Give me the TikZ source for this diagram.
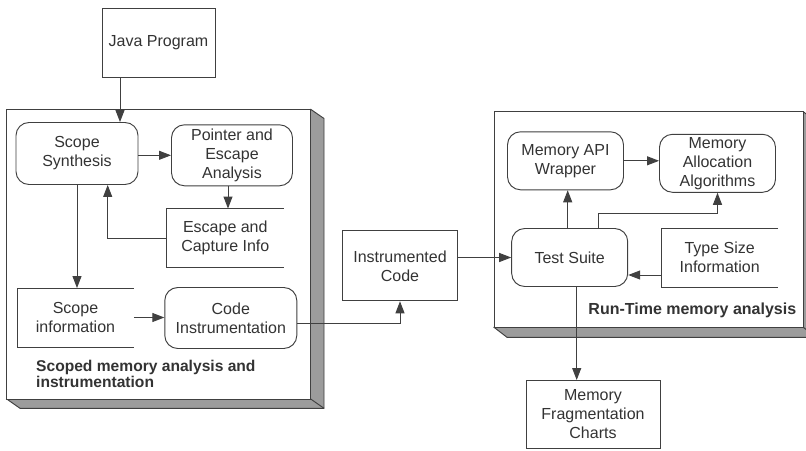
\documentclass[tikz,border=0pt]{standalone}
\usepackage{fontspec}
\setmainfont{Liberation Sans}
\usetikzlibrary{arrows.meta}
\definecolor{ln}{HTML}{404040}
\definecolor{txt}{HTML}{333333}
\definecolor{shade}{HTML}{9C9C9C}

\begin{document}
\begin{tikzpicture}[x=1pt, y=-1pt, >={Triangle[length=12pt,width=9pt]}, color=ln, line width=0.95pt,
  every node/.style={text=txt, font=\fontsize{16}{19}\selectfont, align=center, inner sep=0pt},
  rbox/.style={draw=ln, fill=white, rounded corners=13pt},
  pbox/.style={draw=ln, fill=white},
  sz/.style 2 args={minimum width=#1pt, minimum height=#2pt},
  lbl/.style={font=\bfseries\fontsize{15.6}{16}\selectfont, align=left}]
  \useasboundingbox (0,0) rectangle (806,450);

  % left panel (scoped memory analysis)
  \filldraw[fill=shade] (310.7,109.3) -- (324,118.5) -- (324,408.3) -- (20,408.3) -- (6.7,399) -- cycle;
  \filldraw[fill=white] (6.7,109.3) rectangle (310.7,399);
  \draw (310.7,399) -- (324,408.3);

  % right panel (run-time analysis)
  \filldraw[fill=shade] (803.3,111.7) -- (816,121.7) -- (816,337.3) -- (507,337.3) -- (494,327.3) -- cycle;
  \filldraw[fill=white] (494,111.7) rectangle (803.3,327.3);
  \draw (803.3,327.3) -- (816,337.3);

  % boxes
  \node[pbox, sz={113}{69}]   (jp)  at (158.5,42.5)  {Java Program};
  \node[rbox, sz={122}{62}]   (ss)  at (77,153.5)    {Scope\\Synthesis};
  \node[rbox, sz={121}{61}]   (pea) at (232,155.3)   {Pointer and\\Escape\\Analysis};
  \node[sz={116}{58}]         (eci) at (225.3,238)   {Escape and\\Capture Info};
  \node[sz={116}{58}]         (si)  at (75.5,317.5)  {Scope\\information};
  \node[rbox, sz={132}{61}]   (ci)  at (230.8,318)   {Code\\Instrumentation};
  \node[pbox, sz={115}{70}]   (ic)  at (400,265.8)   {Instrumented\\Code};
  \node[rbox, sz={116}{58}]   (ts)  at (569.7,257.5) {Test Suite};
  \node[rbox, sz={116}{58}]   (maw) at (565.5,160.8) {Memory API\\Wrapper};
  \node[rbox, sz={116}{58}]   (maa) at (717.5,163.3) {Memory\\Allocation\\Algorithms};
  \node[sz={116}{58}]         (tsi) at (719.7,257.5) {Type Size\\Information};
  \node[pbox, sz={134}{68}]   (mfc) at (593,414.5)   {Memory\\Fragmentation\\Charts};

  % open boxes (no right side)
  \draw (eci.north east) -- (eci.north west) -- (eci.south west) -- (eci.south east);
  \draw (si.north east) -- (si.north west) -- (si.south west) -- (si.south east);
  \draw (tsi.north east) -- (tsi.north west) -- (tsi.south west) -- (tsi.south east);

  % panel captions
  \node[lbl, anchor=west] (lcap) at (35.7,374) {Scoped memory analysis and\\instrumentation};
  \node[lbl, font=\bfseries\fontsize{16}{16}\selectfont, anchor=east] (rcap) at (796.7,310.7) {Run-Time memory analysis};

  % connectors
  \draw[->] ([xshift=-38.5pt]jp.south) -- ([xshift=-38.5pt]jp.south |- ss.north);
  \draw[->] (pea.west -| ss.east) -- (pea.west);
  \draw[->] ([xshift=-4pt]pea.south) -- ([xshift=-4pt]pea.south |- eci.north);
  \draw[->] (eci.west) -| ([xshift=30.7pt]ss.south);
  \draw[->] (ss.south) -- (ss.south |- si.north);
  \draw[->] (si.east) -- (si.east -| ci.west);
  \draw[->] ([yshift=-5pt]ci.east) -| (ic.south);
  \draw[->] (ts.west -| ic.east) -- (ts.west);
  \draw[->] ([xshift=-2pt]ts.north) -- ([xshift=-2pt]ts.north |- maw.south);
  \draw[->] (maw.east) -- (maw.east -| maa.west);
  \draw[->] ([xshift=28.6pt]ts.north) -- ++(0,-14.3) -| (maa.south);
  \draw[->] ([yshift=-17.5pt]tsi.west) -- ([yshift=-17.5pt]tsi.west -| ts.east);
  \draw[->] ([xshift=7pt]ts.south) -- ([xshift=7pt]ts.south |- mfc.north);
\end{tikzpicture}
\end{document}
